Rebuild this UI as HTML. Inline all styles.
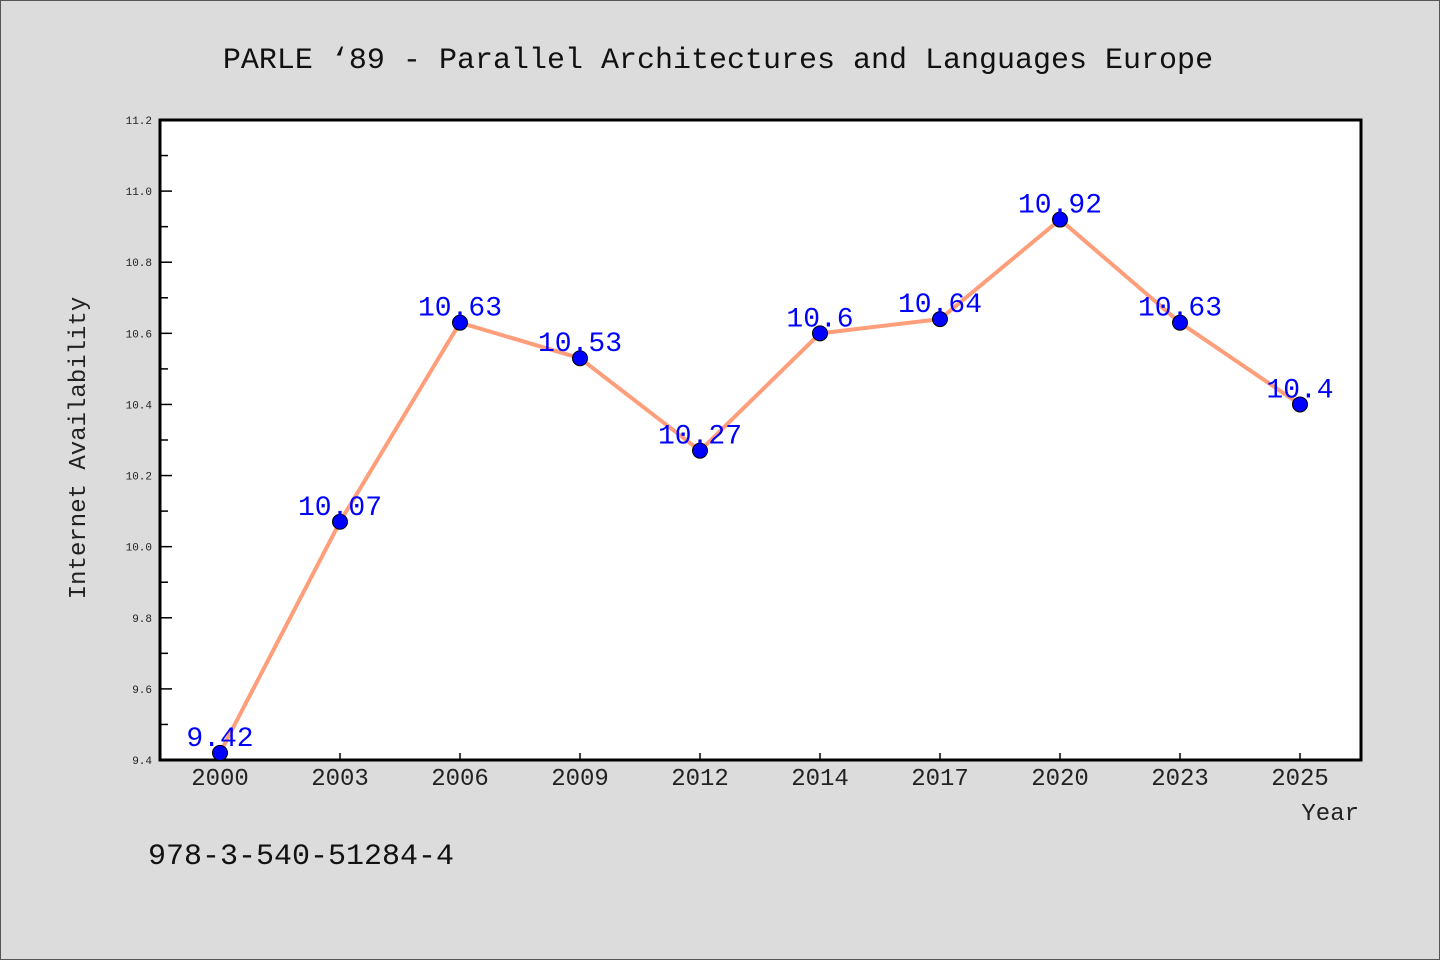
<!DOCTYPE html>
<html><head><meta charset="utf-8"><style>
html,body{margin:0;padding:0;background:#dcdcdc;}
svg{display:block;font-family:"WenQuanYi Zen Hei","Liberation Mono",monospace;}
</style></head><body>
<svg id="chart" width="1440" height="960" viewBox="0 0 1440 960" xmlns="http://www.w3.org/2000/svg">
<rect x="0.5" y="0.5" width="1439" height="959" fill="#dcdcdc" stroke="#555" stroke-width="1"/>
<text x="718" y="68" font-size="30" text-anchor="middle" fill="#111">PARLE  ‘89 - Parallel Architectures and Languages Europe</text>
<rect x="160" y="120" width="1201" height="640" fill="#fff" stroke="#000" stroke-width="3"/>
<g id="yaxis"></g>
<g id="xaxis"></g>
<g id="series"></g>
<text transform="translate(85,448) rotate(-90)" font-size="24" text-anchor="middle" fill="#222">Internet Availability</text>
<text x="1359" y="820" font-size="24" text-anchor="end" fill="#222">Year</text>
<text x="148" y="864" font-size="30" fill="#111">978-3-540-51284-4</text>
</svg>
<script>
const categories=["2000","2003","2006","2009","2012","2014","2017","2020","2023","2025"];
const values=[9.42,10.07,10.63,10.53,10.27,10.6,10.64,10.92,10.63,10.4];
const labels=["9.42","10.07","10.63","10.53","10.27","10.6","10.64","10.92","10.63","10.4"];
const yTicks=["9.4","9.6","9.8","10.0","10.2","10.4","10.6","10.8","11.0","11.2"];
const NS="http://www.w3.org/2000/svg";
const yMin=9.4,yMax=11.2,plotTop=120,plotBot=760;
function ys(v){return plotBot-(v-yMin)/(yMax-yMin)*(plotBot-plotTop);}
function xs(i){return 220+i*120;}
function mk(tag,attrs,parent){const e=document.createElementNS(NS,tag);for(const k in attrs)e.setAttribute(k,attrs[k]);parent.appendChild(e);return e;}
const ya=document.getElementById('yaxis');
yTicks.forEach((t,i)=>{const v=parseFloat(t);const y=ys(v);
 const tk=mk('line',{x1:160,x2:172,y1:y,y2:y,stroke:'#000','stroke-width':1.5},ya);
 
 
 const tx=mk('text',{x:152,y:y+4,'font-size':11,'text-anchor':'end',fill:'#222'},ya);tx.textContent=t;
 
 
 if(i<yTicks.length-1){const ym=ys(v+0.1);
  const mt=mk('line',{x1:160,x2:168,y1:ym,y2:ym,stroke:'#000','stroke-width':1.5},ya);
  
  }
});
const xa=document.getElementById('xaxis');
categories.forEach((c,i)=>{const x=xs(i);
 const tk=mk('line',{x1:x,x2:x,y1:760,y2:753,stroke:'#000','stroke-width':1.5},xa);
 
 
 const tx=mk('text',{x:x,y:785,'font-size':24,'text-anchor':'middle',fill:'#222'},xa);tx.textContent=c;
 
 
});
const sg=document.getElementById('series');
const line=mk('polyline',{points:values.map((v,i)=>xs(i)+','+ys(v)).join(' '),fill:'none',stroke:'#ff9e7a','stroke-width':4,'stroke-linejoin':'round'},sg);


values.forEach((v,i)=>{
 const p=mk('circle',{cx:xs(i),cy:ys(v),r:7.5,fill:'#0000ff',stroke:'#000','stroke-width':1},sg);
 
 
});
values.forEach((v,i)=>{
 const t=mk('text',{x:xs(i),y:ys(v)-7,'font-size':28,'text-anchor':'middle',fill:'#0000ff'},sg);t.textContent=labels[i];
 
 
});
</script>
</body></html>
